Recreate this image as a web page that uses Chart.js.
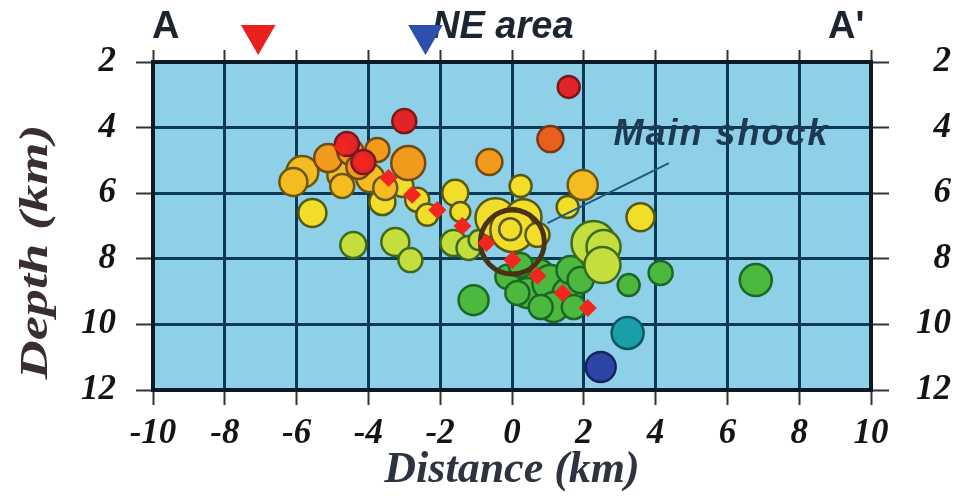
<!DOCTYPE html>
<html>
<head>
<meta charset="utf-8">
<style>
  html, body { margin: 0; padding: 0; background: #fff; }
  #wrap { width: 966px; height: 496px; }
</style>
<script src="https://cdn.jsdelivr.net/npm/chart.js@4.4.0/dist/chart.umd.min.js"></script>
</head>
<body>
<div id="wrap"><canvas id="chart" width="966" height="496"></canvas></div>
<script>
// --- axis ticks ---
const distanceTicks = [-10, -8, -6, -4, -2, 0, 2, 4, 6, 8, 10];
const depthTicks = [2, 4, 6, 8, 10, 12];

// --- hypocentres: [distance km, depth km, bubble radius px] ---
const redQuakes = [[1.58, 2.76, 11], [-3.0, 3.8, 12], [-4.6, 4.5, 12], [-4.14, 5.05, 12]];
const orangeRedQuakes = [[1.07, 4.35, 13]];
const orangeQuakes = [[-0.63, 5.05, 13], [-2.89, 5.08, 17], [-5.12, 4.93, 14], [-4.5, 4.74, 13],
  [-3.75, 4.68, 12], [-4.28, 5.2, 12]];
const amberQuakes = [[-5.84, 5.35, 16], [-6.09, 5.66, 14], [-4.78, 5.45, 13], [-4.73, 5.78, 12],
  [-3.95, 5.54, 14], [1.97, 5.75, 15], [-3.53, 5.84, 12]];
const yellowQuakes = [[0.24, 5.78, 11], [-1.58, 5.99, 13], [1.55, 6.42, 11], [3.58, 6.73, 14],
  [-5.56, 6.6, 14], [-3.61, 6.27, 13], [-3.05, 5.78, 11], [-2.64, 6.2, 12], [-2.36, 6.66, 11],
  [-1.44, 6.57, 10], [-0.46, 6.76, 20], [0.32, 6.73, 18], [0.01, 7.12, 22], [0.71, 7.27, 12],
  [-0.05, 7.1, 11]];
const limeQuakes = [[-4.42, 7.58, 13], [-3.25, 7.49, 14], [-2.83, 8.04, 12], [-1.63, 7.52, 13],
  [-1.21, 7.67, 12], [-0.93, 7.43, 10], [2.27, 7.52, 22], [2.55, 7.64, 17], [2.52, 8.19, 18]];
const greenQuakes = [[0.71, 8.55, 18], [0.43, 9.04, 15], [1.07, 8.74, 18], [1.55, 9.04, 15],
  [1.63, 8.34, 14], [1.16, 9.47, 15], [1.91, 8.65, 13], [-0.13, 8.55, 12], [0.15, 9.04, 12],
  [0.8, 9.47, 12], [1.72, 9.47, 12], [0.24, 8.19, 12], [-1.07, 9.26, 15], [4.14, 8.43, 12],
  [3.25, 8.8, 11], [6.79, 8.65, 16]];
const tealQuakes = [[3.22, 10.26, 16]];
const blueQuakes = [[2.47, 11.3, 15]];

// --- main shock and its label line ---
const mainShock = [0.01, 7.49, 32];
const leaderX = [0.99, 4.37];
const leaderDepth = [6.91, 5.08];

// --- red diamonds along the fault plane ---
const faultX = [-4.73, -4.17, -3.44, -2.78, -2.08, -1.38, -0.71, 0.01, 0.71, 1.41, 2.11];
const faultDepth = [4.59, 5.05, 5.54, 6.05, 6.51, 7.0, 7.52, 8.04, 8.52, 9.04, 9.5];

// --- stations above the section (drawn outside the plot frame) ---
const stationX = [-7.07, -2.41];
const stationDepth = [1.18, 1.18];
const stationColors = ['#e8201e', '#2d4fae'];

const tickFont = { family: '"Liberation Serif", serif', size: 35, style: 'italic', weight: 'bold' };
const gridColor = '#0c3a55';
const frameColor = '#0d1a24';

function bubbles(list, fill, edge) {
  return {
    type: 'bubble',
    data: list.map(q => ({ x: q[0], y: q[1], r: q[2] })),
    backgroundColor: fill,
    borderColor: edge,
    borderWidth: 2.5
  };
}

const sectionPlugin = {
  id: 'section',
  beforeDraw(chart) {
    const { ctx, chartArea: a } = chart;
    ctx.save();
    ctx.fillStyle = '#8ed0e8';
    ctx.fillRect(a.left, a.top, a.right - a.left, a.bottom - a.top);
    ctx.restore();
  },
  beforeDatasetsDraw(chart) {
    const ctx = chart.ctx;
    const sx = chart.scales.x, sy = chart.scales.y;
    ctx.save();
    ctx.fillStyle = '#1c2532';
    ctx.textBaseline = 'alphabetic';
    ctx.font = 'bold 38px "Liberation Sans", Arial, sans-serif';
    ctx.fillText('A', 152, 38);
    ctx.fillText("A'", 828, 38);
    ctx.font = 'italic bold 38px "Liberation Sans", Arial, sans-serif';
    ctx.fillText('NE area', 432, 38);
    ctx.fillStyle = '#1d3a52';
    ctx.font = 'italic bold 36px "Liberation Sans", Arial, sans-serif';
    ctx.letterSpacing = '2px';
    ctx.fillText('Main shock', sx.getPixelForValue(2.83), sy.getPixelForValue(4.52));
    ctx.restore();
  },
  afterDatasetsDraw(chart) {
    // station triangles sit above the frame, so the point elements would be culled
    const ctx = chart.ctx;
    const sx = chart.scales.x, sy = chart.scales.y;
    ctx.save();
    stationX.forEach((x, i) => {
      const px = sx.getPixelForValue(x);
      const py = sy.getPixelForValue(stationDepth[i]);
      const r = 20;
      ctx.beginPath();
      ctx.moveTo(px - r * 0.866, py - r / 2);
      ctx.lineTo(px + r * 0.866, py - r / 2);
      ctx.lineTo(px, py + r);
      ctx.closePath();
      ctx.fillStyle = stationColors[i];
      ctx.fill();
    });
    ctx.restore();
  },
  afterDraw(chart) {
    const ctx = chart.ctx;
    ctx.save();
    ctx.textAlign = 'center';
    ctx.textBaseline = 'middle';
    ctx.fillStyle = '#2e3342';
    ctx.font = 'italic bold 44px "Liberation Serif", serif';
    ctx.fillText('Distance (km)', 512, 471);
    ctx.fillStyle = '#3a2e30';
    ctx.font = 'italic bold 40px "Liberation Serif", serif';
    ctx.translate(37, 252);
    ctx.rotate(-Math.PI / 2);
    const w = ctx.measureText('Depth (km)').width;
    ctx.scale(255 / w, 1);
    ctx.fillText('Depth (km)', 0, 0);
    ctx.restore();
  }
};

const ctx = document.getElementById('chart').getContext('2d');
new Chart(ctx, {
  type: 'bubble',
  data: {
    datasets: [
      {
        type: 'scatter',
        data: faultX.map((x, i) => ({ x, y: faultDepth[i] })),
        pointStyle: 'rectRot',
        pointRadius: 9,
        backgroundColor: '#f2261e',
        borderColor: '#f2261e',
        borderWidth: 0
      },
      {
        type: 'bubble',
        data: [{ x: mainShock[0], y: mainShock[1], r: mainShock[2] }],
        backgroundColor: 'rgba(0,0,0,0)',
        borderColor: '#4a3219',
        borderWidth: 5
      },
      {
        type: 'line',
        data: leaderX.map((x, i) => ({ x, y: leaderDepth[i] })),
        borderColor: '#1d5b7a',
        borderWidth: 2,
        pointRadius: 0,
        fill: false
      },
      bubbles(redQuakes, '#e0242a', '#7a1a18'),
      bubbles(orangeRedQuakes, '#e8601e', '#7a3416'),
      bubbles(orangeQuakes, '#f29a1c', '#6e4a14'),
      bubbles(amberQuakes, '#f5bc22', '#6a5614'),
      bubbles(yellowQuakes, '#f2de2a', '#545a16'),
      bubbles(limeQuakes, '#c4de3e', '#3e6a1e'),
      bubbles(greenQuakes, '#4cb83e', '#1c6626'),
      bubbles(tealQuakes, '#1a9ea8', '#0c5860'),
      bubbles(blueQuakes, '#2d45a5', '#17235e')
    ]
  },
  options: {
    responsive: false,
    animation: false,
    events: [],
    layout: { padding: { left: 0, top: 0, bottom: 0, right: 15 } },
    plugins: { legend: { display: false }, tooltip: { enabled: false } },
    scales: {
      x: {
        type: 'linear', position: 'bottom', min: -10, max: 10,
        afterBuildTicks: s => { s.ticks = distanceTicks.map(v => ({ value: v })); },
        ticks: { font: tickFont, color: '#141414', padding: 8, callback: v => v },
        grid: { color: gridColor, lineWidth: 3, tickLength: 15, tickColor: '#333', tickWidth: 2 },
        border: { color: frameColor, width: 4 },
        afterFit: s => { s.height = 106; }
      },
      x2: {
        type: 'linear', position: 'top', min: -10, max: 10,
        afterBuildTicks: s => { s.ticks = distanceTicks.map(v => ({ value: v })); },
        ticks: { display: false },
        grid: { drawOnChartArea: false, tickLength: 12, tickColor: '#333', tickWidth: 2 },
        border: { color: frameColor, width: 4 },
        afterFit: s => { s.height = 62; }
      },
      y: {
        type: 'linear', position: 'left', reverse: true, min: 2, max: 12,
        afterBuildTicks: s => { s.ticks = depthTicks.map(v => ({ value: v })); },
        ticks: { font: tickFont, color: '#141414', padding: 20 },
        grid: { color: gridColor, lineWidth: 3, tickLength: 17, tickColor: '#333', tickWidth: 2 },
        border: { color: frameColor, width: 4 },
        afterFit: s => { s.width = 153; }
      },
      y2: {
        type: 'linear', position: 'right', reverse: true, min: 2, max: 12,
        afterBuildTicks: s => { s.ticks = depthTicks.map(v => ({ value: v })); },
        ticks: { font: tickFont, color: '#141414', padding: 12, crossAlign: 'far' },
        grid: { drawOnChartArea: false, tickLength: 18, tickColor: '#333', tickWidth: 2 },
        border: { color: frameColor, width: 4 },
        afterFit: s => { s.width = 80; }
      }
    }
  },
  plugins: [sectionPlugin]
});
</script>
</body>
</html>
